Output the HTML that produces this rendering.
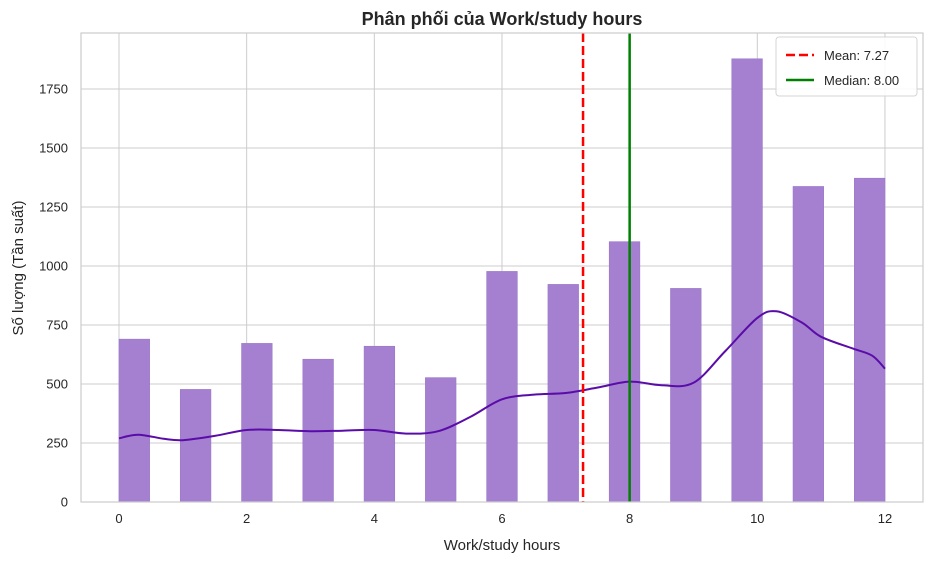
<!DOCTYPE html>
<html><head><meta charset="utf-8"><style>
body{margin:0;background:#fff;font-family:"Liberation Sans",sans-serif;}
svg text{font-family:"Liberation Sans",sans-serif;fill:#262626;}
</style></head><body>
<svg id="c" width="934" height="564"></svg>
<script>
const xCenters=[0,1,2,3,4,5,6,7,8,9,10,11,12];
const counts=[690,477,672,605,660,527,977,922,1103,905,1878,1337,1372];
const kdeX=[0,0.3,0.7,1,1.5,2,2.5,3,3.5,4,4.5,5,5.5,6,6.5,7,7.5,8,8.5,9,9.5,10,10.3,10.7,11,11.5,11.8,12];
const kdeY=[270,285,268,262,280,305,305,300,302,305,290,300,360,435,455,462,485,510,495,505,640,780,808,760,700,650,620,565];
const xTicks=[0,2,4,6,8,10,12];
const yTicks=[0,250,500,750,1000,1250,1500,1750];
const meanVal=7.27, medianVal=8.00;
const binW=0.48;
const L=81,R=923,T=33,B=502;
const X=v=>119+v*63.83;
const Y=v=>502-v*59/250;
const svg=document.getElementById('c');
const NS='http://www.w3.org/2000/svg';
function el(t,a,p){const e=document.createElementNS(NS,t);for(const k in a)e.setAttribute(k,a[k]);(p||svg).appendChild(e);return e;}
xTicks.forEach(v=>{
 const g=el('line',{x1:X(v),x2:X(v),y1:T,y2:B,stroke:'#cccccc','stroke-width':1});
 
 
 const t=el('text',{x:X(v),y:B+21,'text-anchor':'middle','font-size':13});t.textContent=v;
 
 
});
yTicks.forEach(v=>{
 const g=el('line',{x1:L,x2:R,y1:Y(v),y2:Y(v),stroke:'#cccccc','stroke-width':1});
 
 
 const t=el('text',{x:L-13,y:Y(v)+4.5,'text-anchor':'end','font-size':13});t.textContent=v;
 
 
});
xCenters.forEach((c,i)=>{
 const bi=Math.min(24,Math.floor(c/binW+1e-9));
 const x0=bi*binW;
 const b=el('rect',{x:X(x0),y:Y(counts[i]),width:X(binW)-X(0),height:B-Y(counts[i]),fill:'#a580d0',stroke:'#9a78c8','stroke-width':0.6});
 
 
});
const pts=kdeX.map((x,i)=>[X(x),Y(kdeY[i])]);
let d='M'+pts[0][0].toFixed(1)+' '+pts[0][1].toFixed(1);
for(let i=0;i<pts.length-1;i++){
 const p0=pts[Math.max(0,i-1)],p1=pts[i],p2=pts[i+1],p3=pts[Math.min(pts.length-1,i+2)];
 const c1=[p1[0]+(p2[0]-p0[0])/6,p1[1]+(p2[1]-p0[1])/6];
 const c2=[p2[0]-(p3[0]-p1[0])/6,p2[1]-(p3[1]-p1[1])/6];
 d+=` C${c1[0].toFixed(1)} ${c1[1].toFixed(1)} ${c2[0].toFixed(1)} ${c2[1].toFixed(1)} ${p2[0].toFixed(1)} ${p2[1].toFixed(1)}`;
}
const k=el('path',{d:d,fill:'none',stroke:'#5a0ca8','stroke-width':2,'stroke-linejoin':'round'});


const m=el('line',{x1:X(meanVal),x2:X(meanVal),y1:T,y2:B,stroke:'#ff0000','stroke-width':2.5,'stroke-dasharray':'9,4'});


const md=el('line',{x1:X(medianVal),x2:X(medianVal),y1:T,y2:B,stroke:'#008000','stroke-width':2.5});


const f=el('rect',{x:L,y:T,width:R-L,height:B-T,fill:'none',stroke:'#cccccc','stroke-width':1.2});


const lg=el('g',{});


el('rect',{x:776,y:37,width:141,height:59,rx:3,fill:'#fff','fill-opacity':0.85,stroke:'#d5d5d5'},lg);
el('line',{x1:786,x2:814,y1:55,y2:55,stroke:'#ff0000','stroke-width':2.5,'stroke-dasharray':'9,4'},lg);
el('line',{x1:786,x2:814,y1:80,y2:80,stroke:'#008000','stroke-width':2.5},lg);
let t1=el('text',{x:824,y:60,'font-size':13},lg);t1.textContent='Mean: '+meanVal.toFixed(2);


let t2=el('text',{x:824,y:85,'font-size':13},lg);t2.textContent='Median: '+medianVal.toFixed(2);


const tt=el('text',{x:502,y:25,'text-anchor':'middle','font-size':18,'font-weight':'bold'});tt.textContent='Phân phối của Work/study hours';


const xt=el('text',{x:502,y:550,'text-anchor':'middle','font-size':15});xt.textContent='Work/study hours';


const yt=el('text',{x:23,y:268,'text-anchor':'middle','font-size':15,transform:'rotate(-90 23 268)'});yt.textContent='Số lượng (Tần suất)';


</script>
</body></html>
